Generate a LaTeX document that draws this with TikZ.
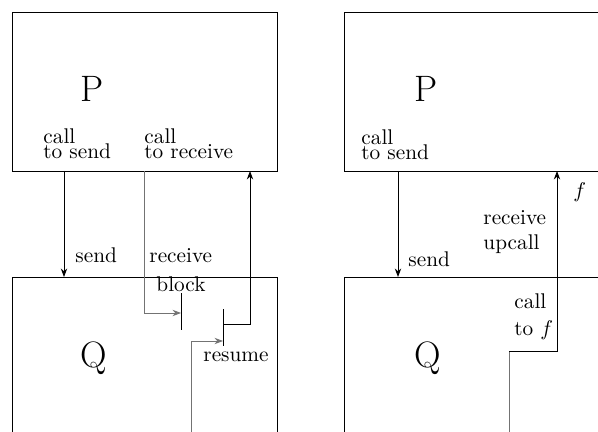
\documentclass[tikz,border=0pt]{standalone}
\usetikzlibrary{arrows.meta}
\begin{document}
\begin{tikzpicture}[x=0.47pt,y=-0.47pt,
  line width=0.42pt,
  proc/.style={draw=none,inner sep=0pt,anchor=base,font=\fontsize{17.28}{20}\selectfont},
  lbl/.style={inner sep=0pt,anchor=base west,align=left,font=\fontsize{10}{7.5}\selectfont},
  lblu/.style={inner sep=0pt,anchor=base west,align=left,font=\fontsize{10}{11.3}\selectfont},
  lblc/.style={inner sep=0pt,anchor=base west,align=left,font=\fontsize{10}{12.7}\selectfont},
  arr/.style={-{Stealth[length=4pt,width=3pt]}},
  faint/.style={draw=black!55}]
\useasboundingbox (0,0) rectangle (598,432);
% ---------- left panel ----------
\draw (12,12) rectangle (277,171);
\draw (12,432) -- (12,277) -- (277,277) -- (277,432);
\node[proc] (P1) at (92,102) {P};
\node[proc] (Q1) at (94,367) {Q};
\node[lbl] (cs1) at (43,159) {call\\to send};
\node[lbl] (cr1) at (144,159) {call\\to receive};
\node[lbl] (snd1) at (75,262) {send};
\node[lbl] (rcv1) at (149,262) {receive};
\node[lbl] (blk1) at (156,292) {block};
\node[lbl] (res1) at (203,361) {resume};
\coordinate (s1a) at (64,171);
\coordinate (s1b) at (64,277);
\draw[arr] (s1a) -- (s1b);
\coordinate (r1a) at (144,171);
\coordinate (r1b) at (181,313);
\draw[arr,faint] (r1a) |- (r1b);
\coordinate (b1t) at (181,293);
\coordinate (b1b) at (181,330);
\draw (b1t) -- (b1b);
\coordinate (m1t) at (223,309);
\coordinate (m1b) at (223,346);
\draw (m1t) -- (m1b);
\coordinate (u1a) at (223,324);
\coordinate (u1b) at (250,171);
\draw[arr] (u1a) -| (u1b);
\coordinate (z1a) at (191,432);
\coordinate (z1b) at (223,341);
\draw[arr,faint] (z1a) |- (z1b);
% ---------- right panel ----------
\draw (598,12) -- (344,12) -- (344,171) -- (598,171);
\draw (344,432) -- (344,277) -- (598,277);
\node[proc] (P2) at (426,102) {P};
\node[proc] (Q2) at (428,367) {Q};
\node[lbl] (cs2) at (361,160) {call\\to send};
\node[lbl] (snd2) at (408,267) {send};
\node[lblu] (ru2) at (483,249) {receive\\upcall};
\node[lblc] (cf2) at (514,336) {call\\to $f$};
\node[lbl] (f2) at (573,198) {$f$};
\coordinate (s2a) at (398,171);
\coordinate (s2b) at (398,277);
\draw[arr] (s2a) -- (s2b);
\coordinate (c2a) at (509,432);
\coordinate (c2b) at (509,351);
\coordinate (c2c) at (557,171);
\draw[faint] (c2a) -- (c2b);
\draw[arr] (c2b) -| (c2c);
\end{tikzpicture}
\end{document}
